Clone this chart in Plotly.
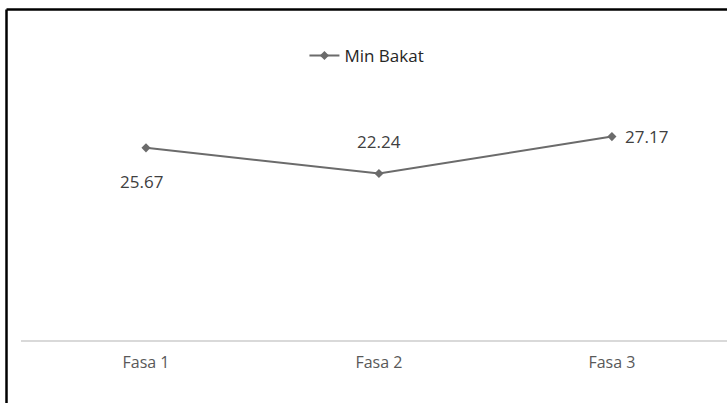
import plotly.graph_objects as go

categories = ["Fasa 1", "Fasa 2", "Fasa 3"]
values = [25.67, 22.24, 27.17]
series_name = "Min Bakat"
label_texts = ["25.67", "22.24", "27.17"]

W, H = 727, 403
ml, mr, mt, mb = 21, 0, 78, 63
pw, ph = W - ml - mr, H - mt - mb

line_color = "#6b6b6b"

fig = go.Figure()
fig.add_trace(go.Scatter(
    x=categories, y=values, name=series_name,
    mode="lines+markers",
    line=dict(color=line_color, width=2),
    marker=dict(symbol="diamond", size=7, color=line_color),
    showlegend=True,
))

# data labels (Excel-style offsets)
offsets = [(-4, -34), (0, 32), (35, 0)]
for c, v, t, (dx, dy) in zip(categories, values, label_texts, offsets):
    fig.add_annotation(x=c, y=v, text=t, showarrow=False,
                       xshift=dx, yshift=dy,
                       font=dict(family="Open Sans", size=17, color="#404040"))

# outer frame (decoration): only left and top edges are visible in the reference
frame_left = (6.5 - ml) / pw
frame_top = (mt + ph - 9.5) / ph
fig.add_shape(type="line", xref="paper", yref="paper",
              x0=frame_left, x1=frame_left, y0=-0.5, y1=frame_top,
              line=dict(color="#000000", width=2.5), layer="above")
fig.add_shape(type="line", xref="paper", yref="paper",
              x0=frame_left, x1=1.2, y0=frame_top, y1=frame_top,
              line=dict(color="#000000", width=2.5), layer="above")

fig.update_layout(
    width=W, height=H,
    margin=dict(l=ml, r=mr, t=mt, b=mb),
    paper_bgcolor="white", plot_bgcolor="white",
    font=dict(family="Open Sans", color="#595959"),
    legend=dict(orientation="h", x=0.49, xanchor="center",
                y=(mt + ph - 56) / ph, yanchor="middle",
                font=dict(family="Open Sans", size=17, color="#262626"),
                bgcolor="rgba(0,0,0,0)"),
    xaxis=dict(type="category", range=[-0.5365, 2.494],
               showgrid=False, zeroline=False,
               showline=True, linecolor="#d9d9d9", linewidth=2,
               ticks="", tickfont=dict(family="Open Sans", size=16, color="#595959"),
               ticklabelstandoff=7),
    yaxis=dict(range=[0, 35], visible=False, showgrid=False, zeroline=False),
)

fig.write_html("out.html", config={"displayModeBar": False},
               post_script="document.body.style.margin='0';document.body.style.overflow='hidden';")
